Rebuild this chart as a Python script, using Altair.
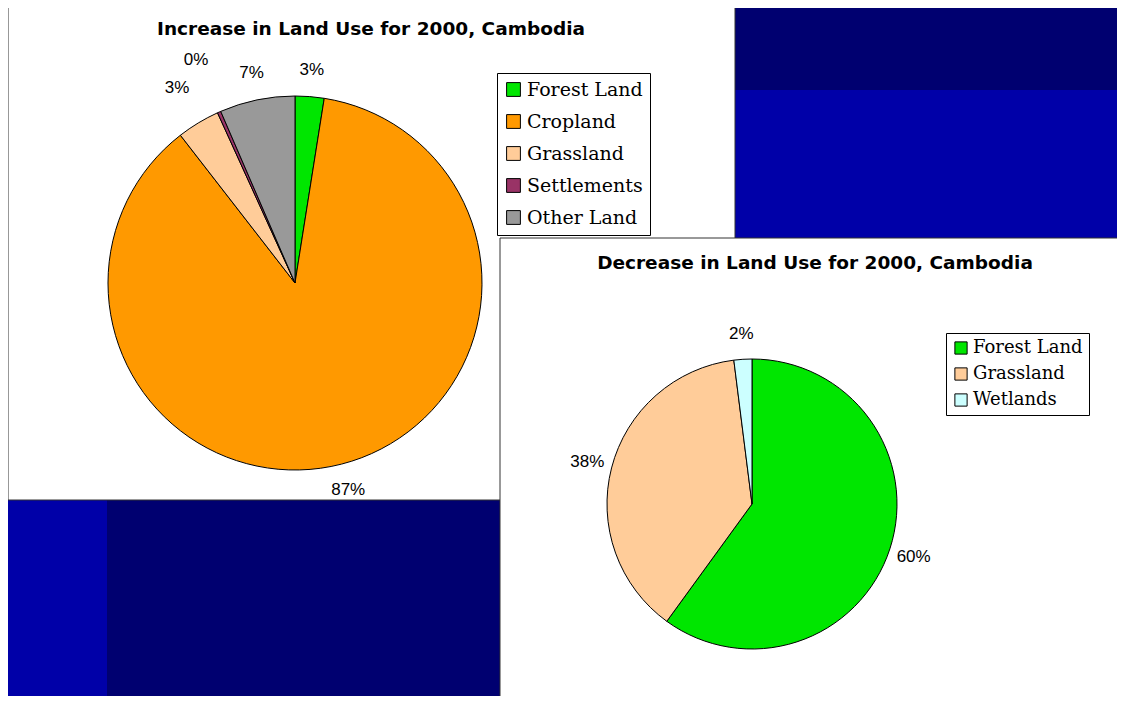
import altair as alt
import pandas as pd

# ---- data ----
inc_categories = ["Forest Land", "Cropland", "Grassland", "Settlements", "Other Land"]
inc_values = [2.5, 87.0, 3.7, 0.3, 6.5]
inc_labels = ["3%", "87%", "3%", "0%", "7%"]
inc_colors = ["#00E600", "#FF9900", "#FFCC99", "#993366", "#999999"]

dec_categories = ["Forest Land", "Grassland", "Wetlands"]
dec_values = [60.0, 38.0, 2.0]
dec_labels = ["60%", "38%", "2%"]
dec_colors = ["#00E600", "#FFCC99", "#CCFFFF"]

titles = ["Increase in Land Use for 2000, Cambodia",
          "Decrease in Land Use for 2000, Cambodia"]

inc_df = pd.DataFrame({"category": inc_categories, "value": inc_values,
                       "label": inc_labels, "idx": list(range(len(inc_categories)))})
dec_df = pd.DataFrame({"category": dec_categories, "value": dec_values,
                       "label": dec_labels, "idx": list(range(len(dec_categories)))})

one = alt.Data(values=[{"k": 0}])
NAVY = "#000070"
BRIGHT = "#0000A8"


def box(x, x2, y, y2, fill, stroke=False):
    if stroke:
        m = alt.Chart(one).mark_rect(fill=fill, stroke="#333333", strokeWidth=1)
    else:
        m = alt.Chart(one).mark_rect(fill=fill)
    return m.encode(x=alt.value(x), x2=alt.value(x2), y=alt.value(y), y2=alt.value(y2))


def title_text(t, x, y):
    return alt.Chart(one).mark_text(
        font="DejaVu Sans", fontSize=18.5, fontWeight="bold", color="black",
        align="center", baseline="middle"
    ).encode(x=alt.value(x), y=alt.value(y), text=alt.value(t))


bg = [
    box(727, 1120, 82, 230, BRIGHT),
    box(-8, 99, 492, 700, BRIGHT),
    box(0, 727, -4, 492, "white", stroke=True),
    box(492, 1120, 230, 700, "white", stroke=True),
    title_text(titles[0], 363, 21),
    title_text(titles[1], 807, 255),
]

lab_style = dict(font="Liberation Sans", fontSize=17, color="black",
                 align="center", baseline="middle")


def labels(df, cx, cy, radius, cats):
    return alt.Chart(df).transform_window(
        cum="sum(value)", sort=[alt.SortField("idx")]
    ).transform_calculate(
        mid="datum.cum - datum.value / 2"
    ).transform_filter(
        alt.FieldOneOfPredicate(field="category", oneOf=cats)
    ).mark_text(radius=radius, **lab_style).encode(
        theta=alt.Theta("mid:Q", stack=None),
        x=alt.value(cx), y=alt.value(cy),
        text="label:N",
    )


# ---- pie 1 (increase) ----
c1x, c1y, r1 = 287, 275, 187
arc1 = alt.Chart(inc_df).mark_arc(radius=r1, stroke="black", strokeWidth=1).encode(
    theta=alt.Theta("value:Q", stack=True),
    order=alt.Order("idx:Q"),
    x=alt.value(c1x), y=alt.value(c1y),
    color=alt.Color("category:N",
                    scale=alt.Scale(domain=inc_categories, range=inc_colors),
                    legend=alt.Legend(title=None, orient="none", legendX=489, legendY=65,
                                      symbolType="square", symbolSize=190,
                                      symbolStrokeColor="black", symbolStrokeWidth=1,
                                      labelFont="DejaVu Serif", labelFontSize=19,
                                      labelColor="black", fillColor="white",
                                      strokeColor="black", padding=7, rowPadding=12,
                                      labelLimit=400, labelOffset=4))
)
pie1 = alt.layer(
    arc1,
    labels(inc_df, c1x, c1y, 214, ["Forest Land", "Cropland", "Other Land"]),
    labels(inc_df, c1x, c1y, 228, ["Grassland"]),
    labels(inc_df, c1x, c1y, 244, ["Settlements"]),
)

# ---- pie 2 (decrease) ----
c2x, c2y, r2 = 744, 496, 145
arc2 = alt.Chart(dec_df).mark_arc(radius=r2, stroke="black", strokeWidth=1).encode(
    theta=alt.Theta("value:Q", stack=True),
    order=alt.Order("idx:Q"),
    x=alt.value(c2x), y=alt.value(c2y),
    color=alt.Color("category:N",
                    scale=alt.Scale(domain=dec_categories, range=dec_colors),
                    legend=alt.Legend(title=None, orient="none", legendX=938, legendY=325,
                                      symbolType="square", symbolSize=150,
                                      symbolStrokeColor="black", symbolStrokeWidth=1,
                                      labelFont="DejaVu Serif", labelFontSize=18,
                                      labelColor="black", fillColor="white",
                                      strokeColor="black", padding=6, rowPadding=8,
                                      labelLimit=400, labelOffset=3))
)
pie2 = alt.layer(arc2, labels(dec_df, c2x, c2y, 170, dec_categories))

chart = alt.layer(*bg, pie1, pie2).resolve_scale(
    theta="independent", color="independent"
).resolve_legend(color="independent").properties(
    width=1109, height=688, background=NAVY, padding=0,
    autosize=alt.AutoSizeParams(type="none"),
).configure_view(stroke=None)

chart.save("out.html", embed_options={"renderer": "svg", "actions": False})
